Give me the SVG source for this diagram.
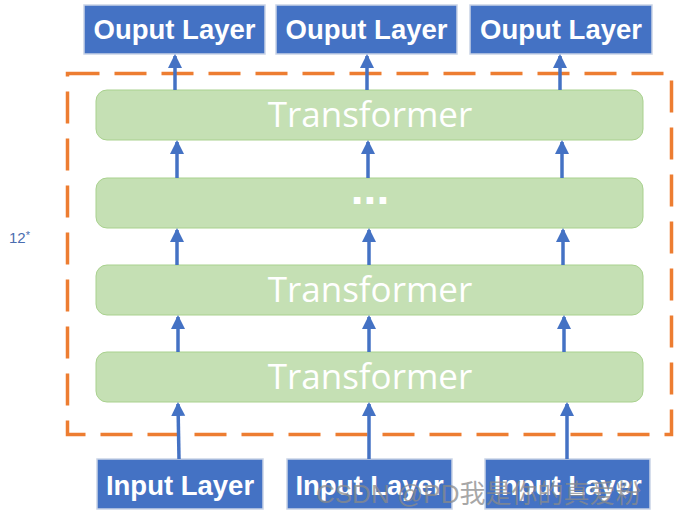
<svg xmlns="http://www.w3.org/2000/svg" width="676" height="519" viewBox="0 0 676 519">
<style>
.io{fill:#4472C4;stroke:#C9D3E6;stroke-width:1.5}
.iot{font-family:"Liberation Sans",Arial,sans-serif;font-weight:bold;font-size:27.5px;fill:#fff;text-anchor:middle}
.tf{fill:#C5E0B4;stroke:#A9D18E;stroke-width:1}
.tft{font-family:"Open Sans","Liberation Sans",sans-serif;font-size:35px;fill:#fff;text-anchor:middle}
.arr{stroke:#4472C4;stroke-width:3.5;fill:none;marker-end:url(#ah)}
</style>
<defs>
<marker id="ah" markerUnits="userSpaceOnUse" markerWidth="16" markerHeight="16" refX="12" refY="7" orient="auto">
<path d="M0,0 L14,7 L0,14 Z" fill="#4472C4"/>
</marker>
</defs>
<rect width="676" height="519" fill="#fff"/>
<rect id="frame" x="67.5" y="73.5" width="604" height="361" fill="none" stroke="#ED7D31" stroke-width="3.5" stroke-dasharray="32 15"/>
<text x="9" y="243" font-family="Liberation Sans,Arial,sans-serif" font-size="15" fill="#4A6DB0">12<tspan font-size="11" dy="-4">*</tspan></text>
<g id="out1"><rect class="io" x="84" y="5" width="181" height="49"/><text class="iot" x="174.5" y="39">Ouput Layer</text></g>
<g id="out2"><rect class="io" x="276" y="5" width="181" height="49"/><text class="iot" x="366.5" y="39">Ouput Layer</text></g>
<g id="out3"><rect class="io" x="470" y="5" width="182" height="49"/><text class="iot" x="561" y="39">Ouput Layer</text></g>
<g id="tf1"><rect class="tf" x="96" y="90" width="547" height="50" rx="11"/><text class="tft" x="370" y="127">Transformer</text></g>
<g id="tf2"><rect class="tf" x="96" y="178" width="547" height="50" rx="11"/><text x="370" y="204" font-family="Liberation Sans,Arial,sans-serif" font-weight="bold" font-size="46" fill="#fff" text-anchor="middle">...</text></g>
<g id="tf3"><rect class="tf" x="96" y="265" width="547" height="50" rx="11"/><text class="tft" x="370" y="302">Transformer</text></g>
<g id="tf4"><rect class="tf" x="96" y="352" width="547" height="50" rx="11"/><text class="tft" x="370" y="389">Transformer</text></g>
<g id="in1"><rect class="io" x="97" y="459" width="166" height="50"/><text class="iot" x="180" y="495">Input Layer</text></g>
<g id="in2"><rect class="io" x="287" y="459" width="165" height="50"/><text class="iot" x="369.5" y="495">Input Layer</text></g>
<g id="in3"><rect class="io" x="485" y="459" width="165" height="50"/><text class="iot" x="567.5" y="495">Input Layer</text></g>
<g id="connectors">
<line class="arr" x1="175" y1="90" x2="175" y2="56"/>
<line class="arr" x1="367" y1="90" x2="367" y2="56"/>
<line class="arr" x1="560" y1="90" x2="560" y2="56"/>
<line class="arr" x1="177" y1="178" x2="177" y2="142"/>
<line class="arr" x1="368" y1="178" x2="368" y2="142"/>
<line class="arr" x1="562" y1="178" x2="562" y2="142"/>
<line class="arr" x1="177" y1="265" x2="177" y2="230"/>
<line class="arr" x1="369" y1="265" x2="369" y2="230"/>
<line class="arr" x1="563" y1="265" x2="563" y2="230"/>
<line class="arr" x1="178" y1="352" x2="178" y2="317"/>
<line class="arr" x1="369" y1="352" x2="369" y2="317"/>
<line class="arr" x1="564" y1="352" x2="564" y2="317"/>
<line class="arr" x1="179" y1="459" x2="178" y2="404"/>
<line class="arr" x1="369" y1="459" x2="369" y2="404"/>
<line class="arr" x1="567" y1="459" x2="567" y2="404"/>
</g>
<text x="316" y="503" font-family="Liberation Sans,'Noto Sans CJK SC',sans-serif" font-size="26" fill="#8a8a8a" fill-opacity="0.75">CSDN @PD我是你的真爱粉</text>
</svg>
